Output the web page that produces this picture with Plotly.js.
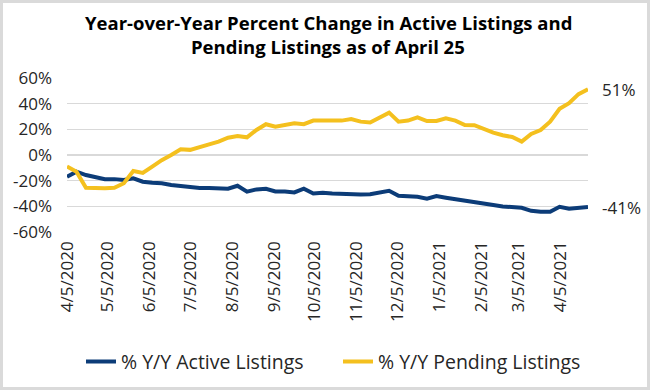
<!DOCTYPE html>
<html>
<head>
<meta charset="utf-8">
<script src="https://cdn.plot.ly/plotly-3.0.1.min.js"></script>
<style>
html,body{margin:0;padding:0;background:#fff;}
#frame{position:absolute;left:0;top:0;width:650px;height:390px;box-sizing:border-box;border:3px solid #dadada;background:#fff;}
#chart{position:absolute;left:0;top:0;width:650px;height:390px;}
</style>
</head>
<body>
<div id="frame"></div>
<div id="chart"></div>
<script>
// Weekly dates from 4/5/2020 to 4/25/2021
const weeks = 56;
const dates = [];
(function(){
  const d0 = new Date(Date.UTC(2020,3,5));
  for (let i=0;i<weeks;i++){
    const d = new Date(d0.getTime() + i*7*86400000);
    dates.push(d.toISOString().slice(0,10));
  }
})();

const activeListings = [
  -17, -13, -15.6, -17.4, -18.8, -18.8, -19.5, -18.2, -20.8, -21.6,
  -22, -23.4, -24.2, -25.3, -25.8, -25.8, -26.3, -26.3, -24, -28.6,
  -26.8, -26.3, -28.4, -28.4, -29.2, -26.3, -30, -29.4, -30, -30.3,
  -30.8, -30.8, -30.5, -29.2, -27.9, -31.8, -31.8, -32.5, -34, -32,
  -33.3, -34.6, -35.2, -37, -38.3, -39, -40.1, -40.6, -41.1, -43.5,
  -44.3, -44.3, -40.4, -41.9, -41.1, -40.6
];
const pendingListings = [
  -9, -13, -25.5, -26, -26, -25.5, -22, -12.5, -14, -9,
  -4, 0, 4.4, 4, 6.5, 8.3, 10.4, 13.5, 14.8, 13.8,
  19.5, 24, 22, 23.4, 24.7, 24, 26.8, 26.8, 26.8, 26.8,
  28, 26, 25.3, 29, 33, 26, 26.8, 29.4, 26.5, 26.5,
  28.6, 26.8, 23.4, 23.2, 20, 17.4, 15.4, 14, 10.4, 16.4,
  19.5, 26, 36, 40.4, 47.4, 51.3
];

const tickDates = ["2020-04-05","2020-05-05","2020-06-05","2020-07-05","2020-08-05","2020-09-05",
  "2020-10-05","2020-11-05","2020-12-05","2021-01-05","2021-02-05","2021-03-05","2021-04-05"];
const tickLabels = ["4/5/2020","5/5/2020","6/5/2020","7/5/2020","8/5/2020","9/5/2020",
  "10/5/2020","11/5/2020","12/5/2020","1/5/2021","2/5/2021","3/5/2021","4/5/2021"];
const yTicks = [-60,-40,-20,0,20,40,60];
const yTickLabels = ["-60%","-40%","-20%","0%","20%","40%","60%"];
const endLabels = ["51%","-41%"];
const endValues = [51, -41];
const titleLines = ["Year-over-Year Percent Change in Active Listings and", "Pending Listings as of April 25"];

const FONT = "Open Sans, sans-serif";
const BLUE = "#0c3c78";
const YELLOW = "#f4c01e";

const traces = [
  {x: dates, y: activeListings, type: "scatter", mode: "lines", name: "% Y/Y Active Listings",
   line: {color: BLUE, width: 4}},
  {x: dates, y: pendingListings, type: "scatter", mode: "lines", name: "% Y/Y Pending Listings",
   line: {color: YELLOW, width: 4}}
];

const titleY = [1.3636, 1.2045];
const annotations = endLabels.map((t, i) => ({
  text: t, xref: "paper", x: 1, yref: "y", y: endValues[i], xanchor: "left", yanchor: "middle",
  xshift: 12, showarrow: false, font: {family: FONT, size: 17, color: "#262626"}
})).concat(titleLines.map((t, i) => ({
  text: "<b>" + t + "</b>", xref: "paper", x: 0.5, xanchor: "center", yref: "paper", y: titleY[i],
  yanchor: "middle", showarrow: false, xshift: 0.5, font: {family: FONT, size: 18.5, color: "#000"}
})));

const layout = {
  width: 650, height: 390,
  paper_bgcolor: "rgba(0,0,0,0)", plot_bgcolor: "rgba(0,0,0,0)",
  margin: {l: 67, r: 62, t: 78, b: 158, autoexpand: false},
  font: {family: FONT, color: "#262626", size: 16},
  xaxis: {type: "date", range: [dates[0], dates[dates.length-1]],
          tickmode: "array", tickvals: tickDates, ticktext: tickLabels, tickangle: -90,
          showgrid: false, zeroline: false, showline: false, ticks: "", ticklabelstandoff: 5,
          tickfont: {family: FONT, size: 17, color: "#262626"}},
  yaxis: {range: [-60, 60], tickmode: "array", tickvals: yTicks, ticktext: yTickLabels,
          showgrid: true, gridcolor: "#d9d9d9", gridwidth: 1.5, zeroline: false, showline: false,
          ticks: "", ticklabelstandoff: 14,
          tickfont: {family: FONT, size: 17, color: "#262626"}},
  showlegend: true,
  legend: {orientation: "h", xref: "container", x: 0.52, xanchor: "center",
           yref: "container", y: 0.072, yanchor: "middle",
           font: {family: FONT, size: 19.5, color: "#262626"}, itemwidth: 30,
           entrywidth: 212, entrywidthmode: "pixels",
           bgcolor: "rgba(0,0,0,0)"},
  annotations: annotations
};

Plotly.newPlot("chart", traces, layout, {displayModeBar: false, staticPlot: true});
</script>
</body>
</html>
